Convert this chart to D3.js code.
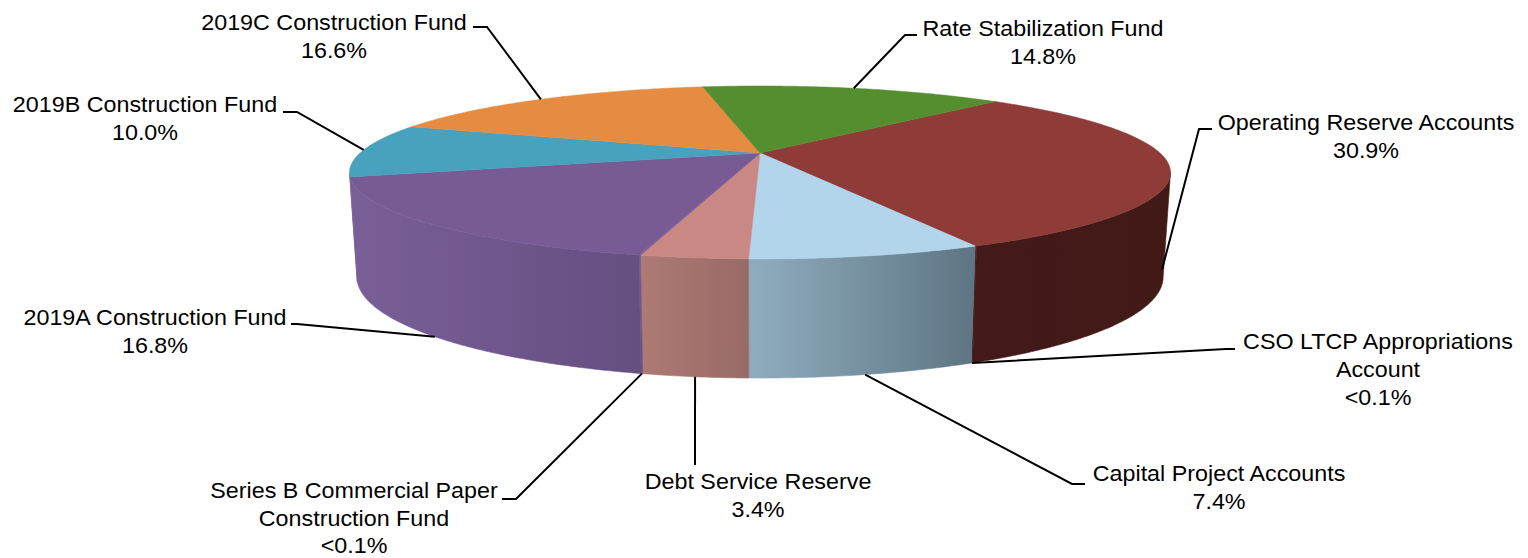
<!DOCTYPE html>
<html>
<head>
<meta charset="utf-8">
<style>
html, body { margin: 0; padding: 0; background: #fff; overflow: hidden; }
svg { display: block; }
text { font-family: "Liberation Sans", Arial, sans-serif; fill: #000; }
</style>
<script src="https://cdnjs.cloudflare.com/ajax/libs/d3/7.8.5/d3.min.js"></script>
</head>
<body>
<div id="chart"></div>
<script>
// data, clockwise from the green/red boundary
var categories = ['Operating Reserve Accounts', 'CSO LTCP Appropriations Account', 'Capital Project Accounts',
	'Debt Service Reserve', 'Series B Commercial Paper Construction Fund', '2019A Construction Fund',
	'2019B Construction Fund', '2019C Construction Fund', 'Rate Stabilization Fund'];
var values = [30.9, 0.05, 7.4, 3.4, 0.05, 16.8, 10.0, 16.6, 14.8];
var valueLabels = ['30.9%', '<0.1%', '7.4%', '3.4%', '<0.1%', '16.8%', '10.0%', '16.6%', '14.8%'];

// wrapped label lines
var labelLines = [
	['Operating Reserve Accounts'],
	['CSO LTCP Appropriations', 'Account'],
	['Capital Project Accounts'],
	['Debt Service Reserve'],
	['Series B Commercial Paper', 'Construction Fund'],
	['2019A Construction Fund'],
	['2019B Construction Fund'],
	['2019C Construction Fund'],
	['Rate Stabilization Fund']
];

// styles
var topColors = ['#8f3c38', '#8f3c38', '#b2d5ec', '#c98884', '#785b94', '#785b94', '#48a1bd', '#e58c42', '#548e2e'];
var sideFrom = ['#43191a', '#43191a', '#90adc0', '#ae7a74', '#7a5f99', '#7a5f99', '#7a5f99', '#e58c42', '#548e2e'];
var sideTo = ['#411a16', '#411a16', '#5e7583', '#986a66', '#654e80', '#654e80', '#7a5f99', '#e58c42', '#548e2e'];

// label layout: text centre, first line middle, line step, elbow and end of the leader
var labelX = [1366, 1378, 1219, 758, 354, 155, 145, 334, 1043];
var labelY = [124, 343.5, 475, 483, 492, 319, 106, 24, 30];
var elbowX = [1199, 1226, 1072, 695, 516, 297, 297, 487, 905];
var elbowY = [129, 349, 484, 465, 499, 324, 112, 27, 35];
var endX = [1212, 1235, 1085, 695, 502, 291, 283, 473, 917];
var lineStep = 27.7;
var fontSize = 22;
var textStretch = 1.06;

var width = 1528, height = 558;
var startDeg = 43.2;

// perspective disks, top face and bottom face
var cx = 760, persp = 0.225;
var topDisk = { r: 400, cy: 153, k: 82.1 };
var bottomDisk = { r: 392.8, cy: 254.3, k: 95.9 };

function project(disk, a) {
	var u = Math.sin(a), v = -Math.cos(a);
	var s = 1 / (1 - persp * v);
	return [cx + disk.r * u * s, disk.cy + disk.k * v * s];
}

function arcPoints(disk, a0, a1) {
	var n = Math.max(2, Math.ceil(Math.abs(a1 - a0) / 0.01));
	return d3.range(n + 1).map(function(i) { return project(disk, a0 + (a1 - a0) * i / n); });
}

var line = d3.line();

var pie = d3.pie().sort(null)
	.startAngle(startDeg * Math.PI / 180)
	.endAngle((startDeg + 360) * Math.PI / 180);
var arcs = pie(values);

var svg = d3.select('#chart').append('svg')
	.attr('width', width)
	.attr('height', height);
var defs = svg.append('defs');

// the side wall shows between the two horizontal extremes of the disk
var visibleFrom = Math.acos(-persp), visibleTo = 2 * Math.PI - visibleFrom;
var tau = 2 * Math.PI;

var sides = svg.append('g').attr('class', 'sides');
arcs.forEach(function(d, i) {
	[0, tau].forEach(function(shift) {
		var a0 = Math.max(d.startAngle - shift, visibleFrom);
		var a1 = Math.min(d.endAngle - shift, visibleTo);
		if (a1 <= a0) return;
		var upper = arcPoints(topDisk, a0, a1);
		var lower = arcPoints(bottomDisk, a1, a0);
		var id = 'side' + i + '_' + shift.toFixed(0);
		var grad = defs.append('linearGradient').attr('id', id)
			.attr('gradientUnits', 'userSpaceOnUse')
			.attr('x1', d3.min(upper.concat(lower), function(p) { return p[0]; })).attr('y1', 0)
			.attr('x2', d3.max(upper.concat(lower), function(p) { return p[0]; })).attr('y2', 0);
		grad.append('stop').attr('offset', 0).attr('stop-color', sideFrom[i]);
		grad.append('stop').attr('offset', 1).attr('stop-color', sideTo[i]);
		sides.append('path')
			.attr('d', line(upper.concat(lower)) + 'Z')
			.attr('fill', 'url(#' + id + ')')
			.attr('stroke', 'url(#' + id + ')')
			.attr('stroke-width', 0.6);
	});
});

// top face
var apex = [cx, topDisk.cy];
svg.append('g').attr('class', 'top').selectAll('path')
	.data(arcs)
	.enter()
	.append('path')
	.attr('d', function(d) {
		return line([apex].concat(arcPoints(topDisk, d.startAngle, d.endAngle))) + 'Z';
	})
	.attr('fill', function(d, i) { return topColors[i]; })
	.attr('stroke', function(d, i) { return topColors[i]; })
	.attr('stroke-width', 0.5);

// leaders start on the rim at the slice mid angle: top rim at the back, bottom rim at the front
function anchor(d) {
	var a = (d.startAngle + d.endAngle) / 2;
	var front = -Math.cos(a) > 0.1;
	return project(front ? bottomDisk : topDisk, a);
}

svg.append('g').attr('class', 'leaders').selectAll('path')
	.data(arcs)
	.enter()
	.append('path')
	.attr('d', function(d, i) {
		return line([anchor(d), [elbowX[i], elbowY[i]], [endX[i], elbowY[i]]]);
	})
	.attr('fill', 'none')
	.attr('stroke', '#000')
	.attr('stroke-width', 2);

// labels
var labels = svg.append('g').attr('class', 'labels').selectAll('text')
	.data(categories)
	.enter()
	.append('text')
	.attr('text-anchor', 'middle')
	.attr('font-size', fontSize)
	.attr('dominant-baseline', 'middle')
	.attr('transform', function(d, i) {
		return 'translate(' + labelX[i] + ',' + labelY[i] + ') scale(' + textStretch + ',1)';
	});

labels.selectAll('tspan')
	.data(function(d, i) { return labelLines[i].concat(valueLabels[i]); })
	.enter()
	.append('tspan')
	.attr('x', 0)
	.attr('y', function(d, i) { return i * lineStep; })
	.text(function(d) { return d; });
</script>
</body>
</html>
